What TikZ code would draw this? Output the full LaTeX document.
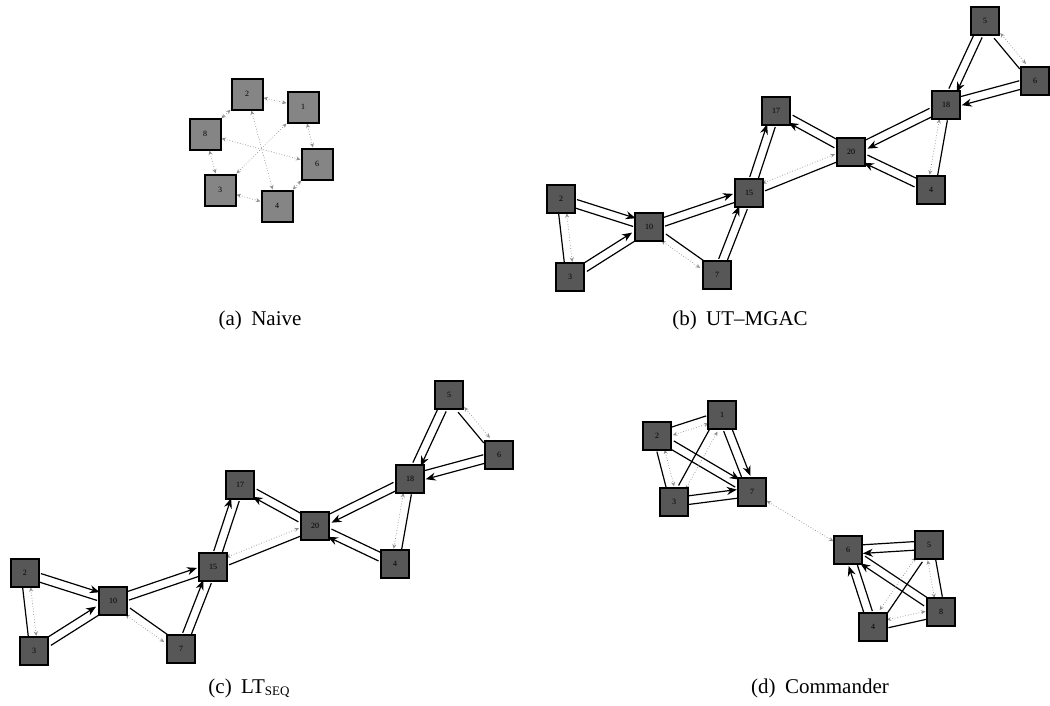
\documentclass[tikz,border=0pt]{standalone}
\usepackage{fontspec}
\setmainfont{Liberation Serif}
\usetikzlibrary{arrows.meta,calc}
\pgfdeclarelayer{background}
\pgfsetlayers{background,main}

\tikzset{
  agent/.style={draw=black, line width=1.2pt, fill=black!66, minimum size=28pt,
    inner sep=0pt, font=\fontsize{8}{8}\selectfont, text=black},
  agentA/.style={agent, fill=black!48, line width=2pt, minimum size=31pt},
  link/.style={draw=black, line width=1.2pt},
  arrowed/.style={link, -{Stealth[length=10pt,width=8pt]}},
  msg/.style={draw=black!45, line width=0.7pt, dotted,
    {Stealth[length=4.5pt,width=4pt,open]}-{Stealth[length=4.5pt,width=4pt,open]}},
  caption/.style={font=\fontsize{21}{24}\selectfont}
}

% angle of the line from node #1 to node #2
\newcommand\getang[2]{%
  \path let \p1=($(#2)-(#1)$), \n1={atan2(\y1,\x1)} in \pgfextra{\xdef\edgeang{\n1}};}
% pair of parallel links, the one on the left carries the arrow
\newcommand\duo[2]{\getang{#1}{#2}%
  \draw[arrowed, transform canvas={shift={(\edgeang+90:4.3pt)}}] (#1) -- (#2);
  \draw[link, transform canvas={shift={(\edgeang-90:4.3pt)}}] (#1) -- (#2);}
% solid link beside a dotted message line; #3 = 1 puts the solid one on the left
\newcommand\mix[3]{\getang{#1}{#2}%
  \pgfmathsetmacro\angS{\edgeang+90*(#3)}%
  \pgfmathsetmacro\angD{\angS+180}%
  \draw[link, transform canvas={shift={(\angS:4pt)}}] (#1) -- (#2);
  \draw[msg, transform canvas={shift={(\angD:4pt)}}] (#1) -- (#2);}

% the chain-shaped agent graph, positioned relative to its hub
\newcommand\chaingraph[1]{%
  \node[agent] (#1A) at (-290,47) {2};
  \node[agent] (#1B) at (-281,125) {3};
  \node[agent] (#1C) at (-202,75) {10};
  \node[agent] (#1D) at (-102,41) {15};
  \node[agent] (#1E) at (-134,123) {7};
  \node[agent] (#1F) at (-75,-41) {17};
  \node[agent] (#1G) at (0,0) {20};
  \node[agent] (#1H) at (95,-47) {18};
  \node[agent] (#1I) at (134,-131) {5};
  \node[agent] (#1J) at (184,-71) {6};
  \node[agent] (#1K) at (80,38) {4};
  \begin{pgfonlayer}{background}
    \duo{#1A}{#1C}
    \duo{#1B}{#1C}
    \duo{#1C}{#1D}
    \duo{#1E}{#1D}
    \duo{#1D}{#1F}
    \duo{#1G}{#1F}
    \duo{#1H}{#1G}
    \duo{#1K}{#1G}
    \duo{#1I}{#1H}
    \duo{#1J}{#1H}
    \mix{#1A}{#1B}{-1}
    \mix{#1C}{#1E}{1}
    \mix{#1D}{#1G}{-1}
    \mix{#1I}{#1J}{-1}
    \mix{#1H}{#1K}{1}
  \end{pgfonlayer}}

\begin{document}
\begin{tikzpicture}[x=1pt,y=-1pt]
\begin{pgfonlayer}{background}
  \fill[white] (0,0) rectangle (1050,705);
\end{pgfonlayer}
\useasboundingbox (0,0) rectangle (1050,705);

% (a) naive: every agent talks to the others
\node[agentA] (a2) at (247,94) {2};
\node[agentA] (a1) at (303,107) {1};
\node[agentA] (a8) at (205,134) {8};
\node[agentA] (a6) at (317,164) {6};
\node[agentA] (a3) at (220,190) {3};
\node[agentA] (a4) at (277,206) {4};
\begin{pgfonlayer}{background}
  \foreach \u/\v in {a2/a1,a2/a8,a1/a6,a8/a3,a3/a4,a4/a6,a8/a6,a2/a4,a1/a3}
    \draw[msg] (\u) -- (\v);
\end{pgfonlayer}

% (b) and (c): same graph
\begin{scope}[shift={(851,152)}]
  \chaingraph{b}
\end{scope}
\begin{scope}[shift={(315,526)}]
  \chaingraph{c}
\end{scope}

% (d) commander: two clusters joined by one message line
\node[agent] (dP) at (657,436) {2};
\node[agent] (dQ) at (722,415) {1};
\node[agent] (dR) at (674,502) {3};
\node[agent] (dS) at (752,492) {7};
\node[agent] (dT) at (848,550) {6};
\node[agent] (dU) at (929,545) {5};
\node[agent] (dV) at (941,612) {8};
\node[agent] (dW) at (873,627) {4};
\begin{pgfonlayer}{background}
  \duo{dP}{dS}
  \duo{dQ}{dS}
  \duo{dR}{dS}
  \mix{dP}{dQ}{1}
  \mix{dP}{dR}{-1}
  \mix{dR}{dQ}{1}
  \draw[msg] (dS) -- (dT);
  \duo{dU}{dT}
  \duo{dV}{dT}
  \duo{dW}{dT}
  \mix{dU}{dW}{1}
  \mix{dU}{dV}{1}
  \mix{dW}{dV}{-1}
\end{pgfonlayer}

% captions
\node[caption] (capa) at (260,320) {(a)\hspace{0.45em}Naive};
\node[caption] (capb) at (740,320) {(b)\hspace{0.45em}UT--MGAC};
\node[caption] (capc) at (249,688) {(c)\hspace{0.45em}LT{\fontsize{13}{13}\selectfont\raisebox{-0.35ex}{SEQ}}};
\node[caption] (capd) at (820,688) {(d)\hspace{0.45em}Commander};
\end{tikzpicture}
\end{document}
